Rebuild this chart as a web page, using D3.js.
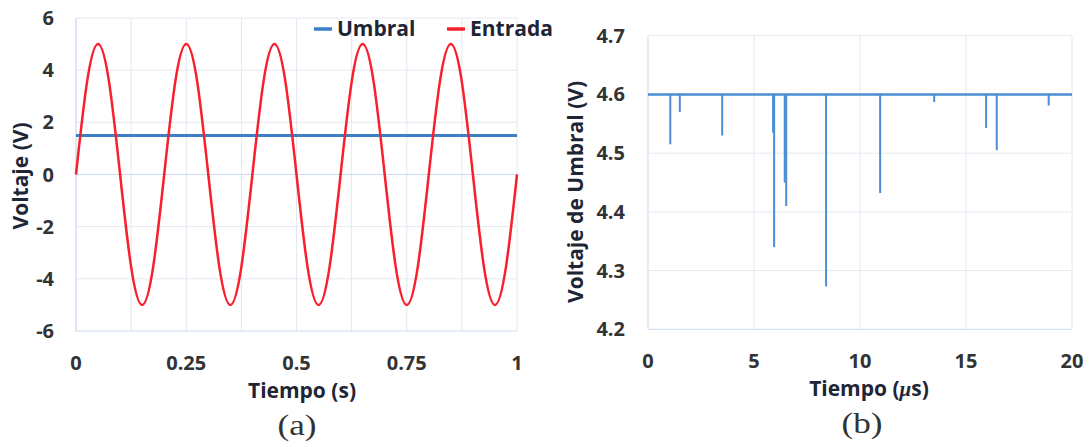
<!DOCTYPE html>
<html>
<head>
<meta charset="utf-8">
<script src="https://cdn.jsdelivr.net/npm/d3@7"></script>
<style>
  body { margin: 0; background: #fff; }
  svg text { font-family: "Open Sans", Lato, sans-serif; font-weight: bold; }
  .grid line { stroke: #e3e8f1; stroke-width: 1; }
  .tick-label { font-size: 20px; fill: #333; }
  .title { font-size: 21px; fill: #1e2535; }
  .caption { font-family: "Liberation Serif", "DejaVu Serif", serif !important; font-weight: normal !important; font-size: 29px; fill: #333; }
</style>
</head>
<body>
<div id="chart"></div>
<script>
// Panel (a): input sine and threshold
const inputTimes = [0, 0.025, 0.05, 0.075, 0.1, 0.125, 0.15, 0.175, 0.2, 0.225, 0.25, 0.275, 0.3, 0.325, 0.35, 0.375, 0.4, 0.425, 0.45, 0.475, 0.5, 0.525, 0.55, 0.575, 0.6, 0.625, 0.65, 0.675, 0.7, 0.725, 0.75, 0.775, 0.8, 0.825, 0.85, 0.875, 0.9, 0.925, 0.95, 0.975, 1];
const inputValues = [0, 3.54, 5, 3.54, 0, -3.54, -5, -3.54, 0, 3.54, 5, 3.54, 0, -3.54, -5, -3.54, 0, 3.54, 5, 3.54, 0, -3.54, -5, -3.54, 0, 3.54, 5, 3.54, 0, -3.54, -5, -3.54, 0, 3.54, 5, 3.54, 0, -3.54, -5, -3.54, 0];
const thresholdA = 1.5;
const xTicksA = [0, 0.25, 0.5, 0.75, 1];
const xGridA = [0, 0.125, 0.25, 0.375, 0.5, 0.625, 0.75, 0.875, 1];
const yTicksA = [-6, -4, -2, 0, 2, 4, 6];
const legendNames = ["Umbral", "Entrada"];

// Panel (b): threshold voltage with drops
const baseThreshold = 4.6;
const spikeTimes = [1.05, 1.5, 3.5, 5.9, 5.95, 6.45, 6.52, 8.4, 10.95, 13.5, 15.95, 16.45, 18.9];
const spikeValues = [4.515, 4.57, 4.53, 4.535, 4.34, 4.45, 4.41, 4.273, 4.432, 4.587, 4.543, 4.505, 4.581];
const xTicksB = [0, 5, 10, 15, 20];
const yTicksB = [4.2, 4.3, 4.4, 4.5, 4.6, 4.7];

const blue = "#3b7fc6", red = "#f7202c", axisColor = "#cdd9ee";

const svg = d3.select("#chart").append("svg")
    .attr("width", 1089)
    .attr("height", 447);

// ---------- panel (a) ----------
const xA = d3.scaleLinear().domain([0, 1]).range([76, 517]);
const yA = d3.scaleLinear().domain([-6, 6]).range([331, 18]);

const gA = svg.append("g");

gA.append("g").attr("class", "grid")
    .selectAll("line").data(xGridA).enter().append("line")
    .attr("x1", d => xA(d)).attr("x2", d => xA(d))
    .attr("y1", yA(6)).attr("y2", yA(-6));
gA.append("g").attr("class", "grid")
    .selectAll("line").data(yTicksA).enter().append("line")
    .attr("x1", xA(0)).attr("x2", xA(1))
    .attr("y1", d => yA(d)).attr("y2", d => yA(d))
    .style("stroke", d => (d === 0 || d === -6) ? axisColor : null);
gA.append("line")
    .attr("x1", xA(0)).attr("x2", xA(0)).attr("y1", yA(6)).attr("y2", yA(-6))
    .attr("stroke", axisColor);

gA.selectAll(".ylab").data(yTicksA).enter().append("text")
    .attr("class", "tick-label")
    .attr("x", 54).attr("y", d => yA(d) + 7)
    .attr("text-anchor", "end")
    .text(d => d);
gA.selectAll(".xlab").data(xTicksA).enter().append("text")
    .attr("class", "tick-label")
    .attr("x", d => xA(d)).attr("y", 370)
    .attr("text-anchor", "middle")
    .text(d => d);

// threshold line
gA.append("path")
    .datum(xA.domain())
    .attr("fill", "none").attr("stroke", blue).attr("stroke-width", 3)
    .attr("d", d3.line().x(d => xA(d)).y(() => yA(thresholdA)));

// input sine
const inputData = inputTimes.map((t, i) => [t, inputValues[i]]);
gA.append("path")
    .datum(inputData)
    .attr("fill", "none").attr("stroke", red).attr("stroke-width", 2.5)
    .attr("d", d3.line().x(d => xA(d[0])).y(d => yA(d[1])).curve(d3.curveNatural));

// legend
const legendX = [314, 447];
const legendColors = [blue, red];
legendNames.forEach((name, i) => {
    gA.append("line")
        .attr("x1", legendX[i]).attr("x2", legendX[i] + 18)
        .attr("y1", 29).attr("y2", 29)
        .attr("stroke", legendColors[i]).attr("stroke-width", 3.5);
    gA.append("text")
        .attr("class", "title")
        .attr("x", legendX[i] + 23).attr("y", 36)
        .text(name);
});

gA.append("text").attr("class", "title")
    .attr("transform", "translate(28,176) rotate(-90)")
    .attr("text-anchor", "middle")
    .text("Voltaje (V)");
gA.append("text").attr("class", "title")
    .attr("x", 302).attr("y", 398)
    .attr("text-anchor", "middle")
    .text("Tiempo (s)");
gA.append("text").attr("class", "caption")
    .attr("x", 297).attr("y", 435)
    .attr("text-anchor", "middle")
    .attr("textLength", 39).attr("lengthAdjust", "spacingAndGlyphs")
    .text("(a)");

// ---------- panel (b) ----------
const xB = d3.scaleLinear().domain([0, 20]).range([648, 1072]);
const yB = d3.scaleLinear().domain([4.2, 4.7]).range([329.3, 35.7]);

const gB = svg.append("g");

gB.append("g").attr("class", "grid")
    .selectAll("line").data(xTicksB).enter().append("line")
    .attr("x1", d => xB(d)).attr("x2", d => xB(d))
    .attr("y1", yB(4.7)).attr("y2", yB(4.2))
    .style("stroke", d => d === 0 ? axisColor : null);
gB.append("g").attr("class", "grid")
    .selectAll("line").data(yTicksB).enter().append("line")
    .attr("x1", xB(0)).attr("x2", xB(20))
    .attr("y1", d => yB(d)).attr("y2", d => yB(d))
    .style("stroke", d => d === 4.2 ? axisColor : null);

gB.selectAll(".ylab").data(yTicksB).enter().append("text")
    .attr("class", "tick-label")
    .attr("x", 625).attr("y", d => yB(d) + 7)
    .attr("text-anchor", "end")
    .text(d => d3.format(".1f")(d));
gB.selectAll(".xlab").data(xTicksB).enter().append("text")
    .attr("class", "tick-label")
    .attr("x", d => xB(d)).attr("y", 368)
    .attr("text-anchor", "middle")
    .text(d => d);

// drops
gB.selectAll(".spike").data(spikeTimes).enter().append("line")
    .attr("x1", d => xB(d)).attr("x2", d => xB(d))
    .attr("y1", yB(baseThreshold))
    .attr("y2", (d, i) => yB(spikeValues[i]))
    .attr("stroke", "#4a8dd2").attr("stroke-width", 2);

// base threshold
gB.append("path")
    .datum(xB.domain())
    .attr("fill", "none").attr("stroke", "#4a8dd2").attr("stroke-width", 2.5)
    .attr("d", d3.line().x(d => xB(d)).y(() => yB(baseThreshold)));

gB.append("text").attr("class", "title")
    .attr("transform", "translate(583,192) rotate(-90)")
    .attr("text-anchor", "middle")
    .text("Voltaje de Umbral (V)");
const tB = gB.append("text").attr("class", "title")
    .attr("x", 869).attr("y", 396)
    .attr("text-anchor", "middle");
tB.append("tspan").text("Tiempo (");
tB.append("tspan").style("font-style", "italic").style("font-family", "'Liberation Serif', serif").text("μ");
tB.append("tspan").text("s)");
gB.append("text").attr("class", "caption")
    .attr("x", 862).attr("y", 433)
    .attr("text-anchor", "middle")
    .attr("textLength", 41).attr("lengthAdjust", "spacingAndGlyphs")
    .text("(b)");
</script>
</body>
</html>
